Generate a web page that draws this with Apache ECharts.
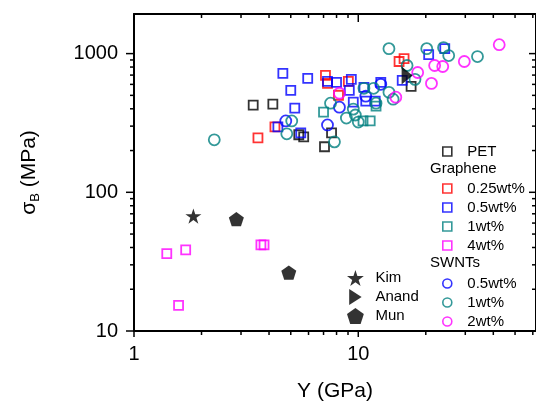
<!DOCTYPE html>
<html><head><meta charset="utf-8">
<script src="https://cdn.jsdelivr.net/npm/echarts@6/dist/echarts.min.js"></script>
<style>html,body{margin:0;padding:0;background:#fff}#c{width:536px;height:407px}</style>
</head><body><div id="c"></div>
<script>
// ---- data (Y modulus in GPa, strength in MPa) ----
const petX = [3.40, 4.16, 5.43, 5.71, 7.07, 7.60, 17.2];
const petY = [425, 432, 260, 251, 213, 268, 580];
const g025X = [3.57, 4.25, 7.14, 7.29, 9.03, 15.2, 16.0, 8.16];
const g025Y = [247, 296, 696, 610, 631, 877, 921, 501];
const g05X = [4.61, 5.95, 5.00, 5.21, 4.38, 5.54, 7.29, 8.0, 9.31, 9.12, 9.50, 10.8, 10.6, 11.9, 12.6, 15.7, 20.6, 24.3];
const g05Y = [720, 663, 544, 404, 296, 268, 631, 621, 652, 544, 447, 454, 571, 454, 621, 641, 984, 1086];
const g1X = [7.0, 10.5, 11.3, 12.0];
const g1Y = [379, 327, 327, 418];
const g4X = [1.40, 1.70, 1.58, 3.68, 3.80];
const g4Y = [36.1, 38.5, 15.3, 41.8, 41.8];
const s05X = [4.75, 7.29, 8.24, 10.8, 12.6];
const s05Y = [327, 306, 411, 493, 601];
const s1X = [2.28, 5.05, 4.80, 7.52, 7.83, 8.85, 9.70, 10.0, 9.50, 10.6, 11.7, 12.0, 13.7, 14.3, 13.7, 16.5, 17.9, 20.2, 24.0, 25.3, 34.0];
const s1Y = [239, 327, 264, 439, 231, 343, 361, 321, 398, 562, 562, 439, 526, 469, 1086, 821, 652, 1086, 1104, 968, 952];
const s2X = [8.24, 14.7, 18.4, 21.2, 21.9, 23.8, 29.7, 42.5];
const s2Y = [518, 485, 731, 610, 821, 807, 877, 1159];
const kimX = [1.84], kimY = [67.4];
const anandX = [16.5], anandY = [696];
const munX = [2.86, 4.90], munY = [64.1, 26.4];

const xMajor = [1, 10];
const xMinor = [2, 3, 4, 5, 6, 7, 8, 9, 20, 30, 40, 50, 60];
const yMajor = [10, 100, 1000];
const yMinor = [20, 30, 40, 50, 60, 70, 80, 90, 200, 300, 400, 500, 600, 700, 800, 900];
const xMin = 1, xMax = 62, yMin = 10, yMax = 1930;

const FONT = 'Liberation Sans, Arial, sans-serif';
const SQ = 'path://M0,0H10V10H0Z';
const STAR = 'path://M50,0L61.2,34.5L97.6,34.5L68.2,55.9L79.4,90.5L50,69.1L20.6,90.5L31.8,55.9L2.4,34.5L38.8,34.5Z';
const PENT = 'path://M50,0L97.6,34.5L79.4,90.5L20.6,90.5L2.4,34.5Z';
const TRI = 'path://M0,0L78,50L0,100Z';

const zip = (xs, ys) => xs.map((x, i) => [x, ys[i]]);

function hollow(name, xs, ys, symbol, size, color) {
  return {
    type: 'scatter', name, data: zip(xs, ys), symbol, symbolSize: size, symbolKeepAspect: true,
    itemStyle: { color: 'rgba(0,0,0,0)', borderColor: color, borderWidth: 1.8 },
    emphasis: { disabled: true }, xAxisIndex: 0, yAxisIndex: 0
  };
}
function solid(name, xs, ys, symbol, size) {
  return {
    type: 'scatter', name, data: zip(xs, ys), symbol, symbolSize: size, symbolKeepAspect: true,
    itemStyle: { color: '#000' }, emphasis: { disabled: true }, xAxisIndex: 0, yAxisIndex: 0
  };
}

const series = [
  hollow('PET', petX, petY, SQ, 9, '#000000'),
  hollow('G-0.25wt%', g025X, g025Y, SQ, 9, '#ff0000'),
  hollow('G-0.5wt%', g05X, g05Y, SQ, 9, '#0000ff'),
  hollow('G-1wt%', g1X, g1Y, SQ, 9, '#008080'),
  hollow('G-4wt%', g4X, g4Y, SQ, 9, '#ff00ff'),
  hollow('S-0.5wt%', s05X, s05Y, 'circle', 11, '#0000ff'),
  hollow('S-1wt%', s1X, s1Y, 'circle', 11, '#008080'),
  hollow('S-2wt%', s2X, s2Y, 'circle', 11, '#ff00ff'),
  solid('Kim', kimX, kimY, STAR, 16),
  solid('Anand', anandX, anandY, TRI, [14, 18]),
  solid('Mun', munX, munY, PENT, 15)
];

const colorOf = {'PET':'#000000','G-0.25wt%':'#ff0000','G-0.5wt%':'#0000ff','G-1wt%':'#008080','G-4wt%':'#ff00ff','S-0.5wt%':'#0000ff','S-1wt%':'#008080','S-2wt%':'#ff00ff'};
function legItem(n, icon) {
  return { name: n, icon, itemStyle: { color: 'rgba(0,0,0,0)', borderColor: colorOf[n], borderWidth: 1.6 } };
}
const legBase = {
  orient: 'vertical', padding: 0, itemGap: 0, itemWidth: 30, itemHeight: 9, selectedMode: false,
  textStyle: { fontSize: 15, lineHeight: 19, color: '#000', fontFamily: FONT },
  formatter: n => n.replace(/^[GS]-/, '')
};

const lineStyle = { color: '#000', width: 2 };
function xAx(pos, opts) {
  return Object.assign({
    type: 'log', logBase: 10, min: xMin, max: xMax, position: pos, gridIndex: 0,
    axisLine: { show: true, lineStyle }, splitLine: { show: false }, axisLabel: { show: false },
    axisTick: { show: false }, axisPointer: { show: false }, silent: true
  }, opts);
}
function yAx(pos, opts) {
  return Object.assign({
    type: 'log', logBase: 10, min: yMin, max: yMax, position: pos, gridIndex: 0,
    axisLine: { show: true, lineStyle }, splitLine: { show: false }, axisLabel: { show: false },
    axisTick: { show: false }, axisPointer: { show: false }, silent: true
  }, opts);
}
const fmt = v => String(Math.round(v));

const headers = [
  { id: 'gh', type: 'text', left: 430, top: 161, silent: true, style: { text: 'Graphene', font: '15px ' + FONT, fill: '#000' } },
  { id: 'sh', type: 'text', left: 430, top: 255, silent: true, style: { text: 'SWNTs', font: '15px ' + FONT, fill: '#000' } }
];

const option = {
  animation: false,
  backgroundColor: '#fff',
  grid: { left: 134, top: 14, right: -3, bottom: 73, containLabel: false },
  xAxis: [
    xAx('bottom', {
      axisLabel: { show: true, customValues: xMajor, formatter: fmt, margin: 13, fontSize: 20, color: '#000', fontFamily: FONT },
      name: 'Y (GPa)', nameLocation: 'middle', nameGap: 50,
      nameTextStyle: { fontSize: 21, color: '#000', fontFamily: FONT }
    }),
    xAx('top', {})
  ],
  yAxis: [
    yAx('left', {
      axisLabel: { show: true, customValues: yMajor, formatter: fmt, margin: 16, fontSize: 20, color: '#000', fontFamily: FONT },
      name: '{s|σ}{b|B}{s| (MPa)}', nameLocation: 'middle', nameGap: 92, nameRotate: 90,
      nameTextStyle: {
        color: '#000', fontFamily: FONT,
        rich: {
          s: { fontSize: 21, lineHeight: 26, fontFamily: FONT, color: '#000' },
          b: { fontSize: 13, lineHeight: 14, verticalAlign: 'bottom', fontFamily: FONT, color: '#000' }
        }
      }
    }),
    yAx('right', {})
  ],
  legend: [
    Object.assign({}, legBase, { left: 442, top: 142, data: [legItem('PET', SQ)] }),
    Object.assign({}, legBase, { left: 442, top: 179, data: ['G-0.25wt%', 'G-0.5wt%', 'G-1wt%', 'G-4wt%'].map(n => legItem(n, SQ)) }),
    Object.assign({}, legBase, { left: 442, top: 274, data: ['S-0.5wt%', 'S-1wt%', 'S-2wt%'].map(n => legItem(n, 'circle')) }),
    Object.assign({}, legBase, { left: 347, top: 268.5, itemHeight: 16,
      data: [{ name: 'Kim', icon: STAR, itemStyle: { color: '#000' } },
             { name: 'Anand', icon: TRI, itemStyle: { color: '#000' } },
             { name: 'Mun', icon: PENT, itemStyle: { color: '#000' } }] })
  ],
  graphic: headers,
  series
};
const chart = echarts.init(document.getElementById('c'), null, { renderer: 'canvas' });
chart.setOption(option);

// axis ticks (major/minor, mirrored Origin style) placed through the axes' own scales
const px = v => chart.convertToPixel({ xAxisIndex: 0 }, v);
const py = v => chart.convertToPixel({ yAxisIndex: 0 }, v);
const L = px(xMin), R = px(xMax), T = py(yMax), B = py(yMin);
const ticks = [];
const seg = (x1, y1, x2, y2) => ticks.push({
  id: 'tk' + ticks.length, type: 'line', silent: true, z: 50,
  shape: { x1, y1, x2, y2 }, style: { stroke: '#000', lineWidth: 1.5 }
});
xMajor.forEach(v => { const x = px(v); seg(x, B, x, B + 6); seg(x, T, x, T + 8); });
xMinor.forEach(v => { const x = px(v); seg(x, B, x, B + 4); seg(x, T, x, T + 4); });
yMajor.forEach(v => { const y = py(v); seg(L - 8, y, L, y); seg(R - 7, y, R, y); });
yMinor.forEach(v => { const y = py(v); seg(L - 4, y, L, y); seg(R - 4, y, R, y); });
chart.setOption({ graphic: headers.concat(ticks) });
</script>
</body></html>
